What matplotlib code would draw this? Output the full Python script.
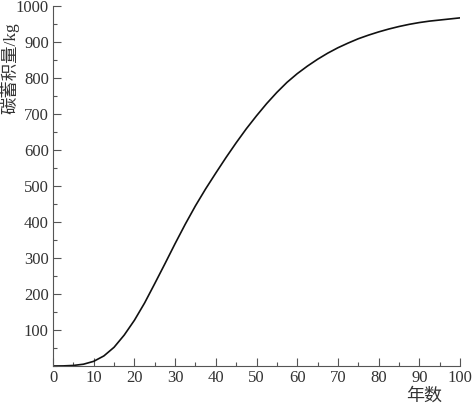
"""Carbon storage growth curve (碳蓄积量 vs 年数)."""

import matplotlib
matplotlib.use("Agg")
import matplotlib.pyplot as plt
from matplotlib.ticker import MultipleLocator

# years and carbon storage (kg)
years = [0, 2.5, 5, 7.5, 10, 12.5, 15, 17.5, 20, 22.5, 25, 27.5, 30, 32.5,
         35, 37.5, 40, 42.5, 45, 47.5, 50, 52.5, 55, 57.5, 60, 62.5, 65,
         67.5, 70, 72.5, 75, 77.5, 80, 82.5, 85, 87.5, 90, 92.5, 95, 97.5, 100]
carbon = [0, 0.3, 1.5, 5, 13, 28, 52, 86, 127, 175, 229, 284, 340, 394,
          445, 492, 536, 579, 620, 659, 695, 729, 760, 788, 812, 833, 852,
          869, 884, 897, 909, 919, 928, 936, 943, 949, 954, 958, 961, 964, 967]

x_ticks = list(range(0, 101, 10))
y_ticks = list(range(100, 1001, 100))

SERIF = ["Liberation Serif", "Noto Sans CJK SC"]
AXIS = "#555555"
TEXT = "#333333"

plt.rcParams["font.family"] = SERIF

fig = plt.figure(figsize=(4.72, 4.05), dpi=100, facecolor="white")
ax = fig.add_axes([0.1123, 0.0963, 0.8623, 0.8889])

ax.plot(years, carbon, color="#111111", lw=1.2)

ax.set_xlim(0, 100)
ax.set_ylim(0, 1000)
ax.set_xticks(x_ticks)
ax.set_yticks(y_ticks)
ax.xaxis.set_minor_locator(MultipleLocator(5))
ax.yaxis.set_minor_locator(MultipleLocator(50))

for s in ("top", "right"):
    ax.spines[s].set_visible(False)
for s in ("left", "bottom"):
    ax.spines[s].set_color(AXIS)
    ax.spines[s].set_linewidth(0.8)

ax.tick_params(which="both", direction="in", color=AXIS, width=0.8)
ax.tick_params(which="major", length=6, labelsize=12, labelcolor=TEXT, pad=3)
ax.tick_params(which="minor", length=3)

fig.text(10 / 472, 1 - 68 / 405, "碳蓄积量/kg", rotation=90, ha="center",
         va="center", fontsize=12.5, color=TEXT)
fig.text(424 / 472, 1 - 396 / 405, "年数", ha="center", va="center",
         fontsize=13, color=TEXT)

fig.savefig("out.png", dpi=100, facecolor="white")
